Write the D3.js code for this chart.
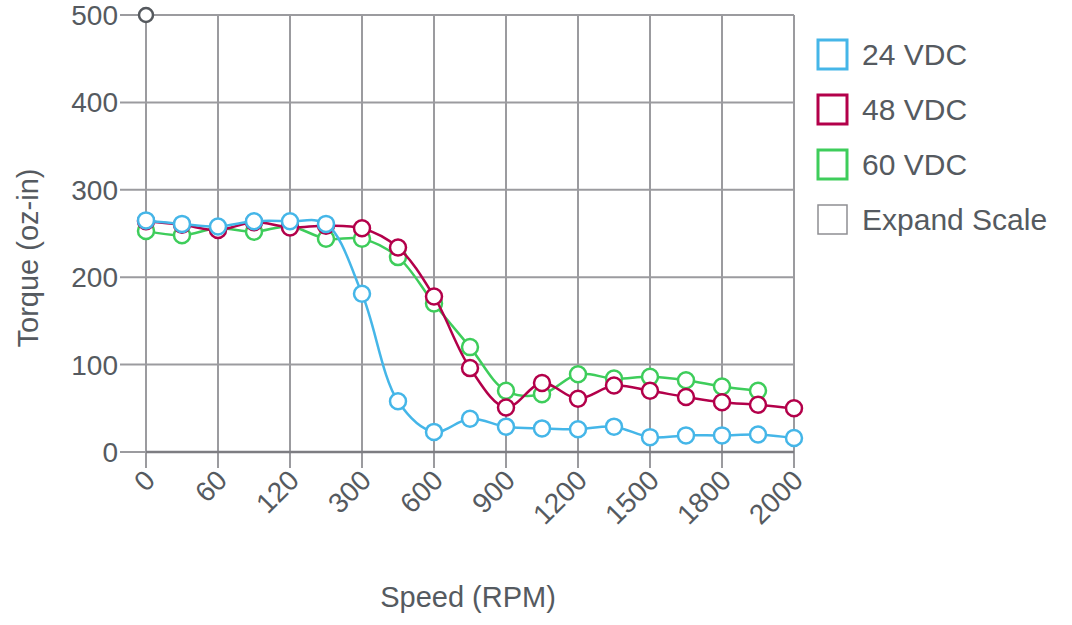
<!DOCTYPE html>
<html><head><meta charset="utf-8">
<script src="https://cdn.jsdelivr.net/npm/d3@7/dist/d3.min.js"></script>
<style>body{margin:0;background:#fff;}svg{display:block;font-family:"Liberation Sans",Arial,sans-serif;}</style>
</head><body><svg id="c" width="1072" height="625"></svg>
<script>
const speeds = ["0","30","60","90","120","180","300","450","600","750","900","1050","1200","1350","1500","1650","1800","1900","2000"];
const tickLabels = ["0","60","120","300","600","900","1200","1500","1800","2000"];
const yTicks = [0,100,200,300,400,500];
const v24 = [265,261,258,264,264,261,181,58,23,38,29,27,26,29,17,19,19,20,16];
const v48 = [264,260,254,263,257,259,256,234,178,96,51,79,61,76,70,63,57,54,50];
const v60 = [253,248,256,252,258,244,244,223,170,120,70,66,89,84,86,82,75,70,null];
const vExpand = [500];
const seriesNames = ["24 VDC","48 VDC","60 VDC","Expand Scale"];
const colors = ["#45b6e8","#b3004a","#3ecd5b","#55595e"];

const svg = d3.select("#c");
const x = d3.scalePoint().domain(speeds).range([146,794]);
const y = d3.scaleLinear().domain([0,500]).range([452,15]);
const grid = "#9b9b9f", txt = "#555a60";

svg.append("g").selectAll("line").data(yTicks).join("line")
  .attr("x1",120).attr("x2",794).attr("y1",d=>y(d)).attr("y2",d=>y(d))
  .attr("stroke",grid).attr("stroke-width",2);
const labelled = speeds.filter(s=>tickLabels.includes(s));
svg.append("g").selectAll("line").data(labelled).join("line")
  .attr("x1",d=>x(d)).attr("x2",d=>x(d)).attr("y1",15).attr("y2",468)
  .attr("stroke",grid).attr("stroke-width",2);
svg.append("line").attr("x1",146).attr("x2",794).attr("y1",y(0)).attr("y2",y(0)).attr("stroke","#7d7d82").attr("stroke-width",2.5);

svg.append("g").selectAll("text").data(yTicks).join("text")
  .attr("x",118).attr("y",d=>y(d)).attr("dy","0.36em").attr("text-anchor","end")
  .attr("fill",txt).attr("font-size",28).text(d=>d);
svg.append("g").selectAll("text").data(labelled).join("text")
  .attr("transform",d=>`translate(${x(d)-3},${468}) rotate(-45)`)
  .attr("text-anchor","end").attr("dy","0.7em")
  .attr("fill",txt).attr("font-size",28).text(d=>d);

svg.append("text").attr("transform","translate(38,258) rotate(-90)").attr("text-anchor","middle")
  .attr("fill",txt).attr("font-size",29).text("Torque (oz-in)");
svg.append("text").attr("x",468).attr("y",607).attr("text-anchor","middle")
  .attr("fill",txt).attr("font-size",29).text("Speed (RPM)");

const data = [v24,v48,v60,vExpand];
const line = d3.line().x(d=>x(d.s)).y(d=>y(d.v)).curve(d3.curveCatmullRom.alpha(0.5));
[2,1,0,3].forEach(k=>{
  const pts = data[k].map((v,i)=>({s:speeds[i],v})).filter(d=>d.v!=null);
  const g = svg.append("g");
  g.append("path").datum(pts).attr("d",line).attr("fill","none").attr("stroke",colors[k]).attr("stroke-width",2.5);
  g.selectAll("circle").data(pts).join("circle")
    .attr("cx",d=>x(d.s)).attr("cy",d=>y(d.v)).attr("r",k===3?7:8)
    .attr("fill","#fff").attr("stroke",colors[k]).attr("stroke-width",2.5);
});

const lg = svg.append("g");
seriesNames.forEach((n,i)=>{
  lg.append("rect").attr("x",818).attr("y",40+i*55).attr("width",29).attr("height",29)
    .attr("fill","#fff").attr("stroke",i===3?"#8e8e93":colors[i]).attr("stroke-width",i===3?1.5:3);
  lg.append("text").attr("x",862).attr("y",54+i*55).attr("dy","0.36em")
    .attr("fill",txt).attr("font-size",30).text(n);
});
</script></body></html>
